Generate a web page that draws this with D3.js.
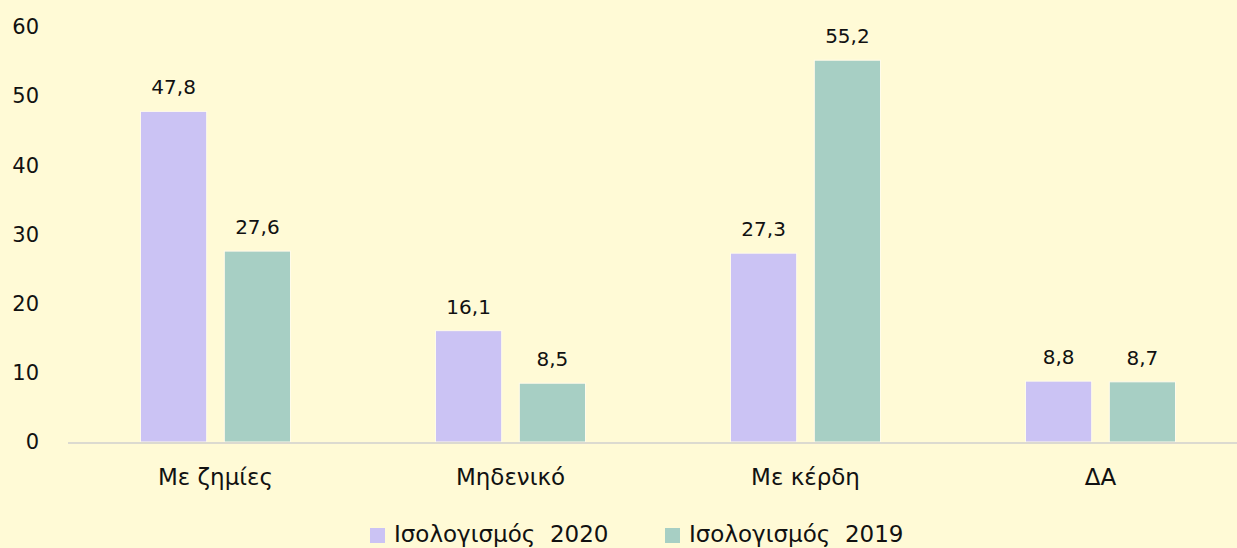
<!DOCTYPE html>
<html>
<head>
<meta charset="utf-8">
<script src="https://cdn.jsdelivr.net/npm/d3@7"></script>
<style>
  body { margin:0; background:#FFFAD6; }
  text { font-family: "DejaVu Sans", sans-serif; fill:#111; }
</style>
</head>
<body>
<div id="chart"></div>
<script>
// data
var categories = ["Με ζημίες", "Μηδενικό", "Με κέρδη", "ΔΑ"];
var seriesNames = ["Ισολογισμός  2020", "Ισολογισμός  2019"];
var values2020 = [47.8, 16.1, 27.3, 8.8];
var values2019 = [27.6, 8.5, 55.2, 8.7];
var yTicks = [0, 10, 20, 30, 40, 50, 60];

var colors = ["#CBC3F4", "#A7CFC4"];
var W = 1237, H = 548;

var rows = categories.map(function(c, i){
  return {cat: c, vals: [values2020[i], values2019[i]]};
});

var svg = d3.select("#chart").append("svg")
  .attr("width", W)
  .attr("height", H);

svg.append("rect").attr("width", W).attr("height", H).attr("fill", "#FFFAD6");

var x0 = d3.scaleBand()
  .domain(categories)
  .range([68, 1248]);

var x1 = d3.scaleBand()
  .domain([0, 1])
  .range([x0.bandwidth()/2 - 75, x0.bandwidth()/2 + 75])
  .paddingInner(0.21);

var yScale = d3.scaleLinear()
  .domain([0, 60])
  .range([442, 27]);

// y tick labels, no axis line
var yAxis = svg.append("g")
  .attr("transform", "translate(39,0)")
  .call(d3.axisLeft(yScale).tickValues(yTicks).tickSize(0).tickPadding(0));
yAxis.select(".domain").remove();
yAxis.selectAll("text")
  .style("font-family", "DejaVu Sans, sans-serif")
  .style("font-size", "21px")
  .attr("fill", "#111");

// bars
var groups = svg.selectAll("g.grp")
  .data(rows)
  .enter().append("g")
  .attr("class", "grp")
  .attr("transform", function(d){ return "translate(" + x0(d.cat) + ",0)"; });

groups.selectAll("rect")
  .data(function(d){ return d.vals; })
  .enter().append("rect")
  .attr("x", function(d, i){ return x1(i); })
  .attr("y", function(d){ return yScale(d); })
  .attr("width", x1.bandwidth())
  .attr("height", function(d){ return yScale(0) - yScale(d); })
  .attr("fill", function(d, i){ return colors[i]; })
  .attr("stroke", "#FFFBEA")
  .attr("stroke-width", 1);

groups.selectAll("text.lbl")
  .data(function(d){ return d.vals; })
  .enter().append("text")
  .attr("class", "lbl")
  .attr("x", function(d, i){ return x1(i) + x1.bandwidth()/2; })
  .attr("y", function(d){ return yScale(d) - 17; })
  .attr("text-anchor", "middle")
  .style("font-size", "20px")
  .text(function(d){ return String(d).replace(".", ","); });

// x axis line
var xAxis = svg.append("g")
  .attr("transform", "translate(0," + yScale(0) + ")")
  .call(d3.axisBottom(x0).tickSize(0).tickPadding(27));
xAxis.select(".domain")
  .attr("stroke", "#DCDAD0")
  .attr("stroke-width", 2)
  .attr("d", "M68,1H" + W);
xAxis.selectAll("text")
  .style("font-family", "DejaVu Sans, sans-serif")
  .style("font-size", "23px")
  .attr("fill", "#111");

// legend
var legX = [370, 665];
var leg = svg.selectAll("g.leg")
  .data(seriesNames)
  .enter().append("g")
  .attr("class", "leg")
  .attr("transform", function(d, i){ return "translate(" + legX[i] + ",528)"; });
leg.append("rect")
  .attr("width", 15).attr("height", 15)
  .attr("fill", function(d, i){ return colors[i]; });
leg.append("text")
  .attr("x", 24)
  .attr("y", 14)
  .style("font-size", "23px")
  .style("white-space", "pre")
  .attr("xml:space", "preserve")
  .text(function(d){ return d; });
</script>
</body>
</html>
